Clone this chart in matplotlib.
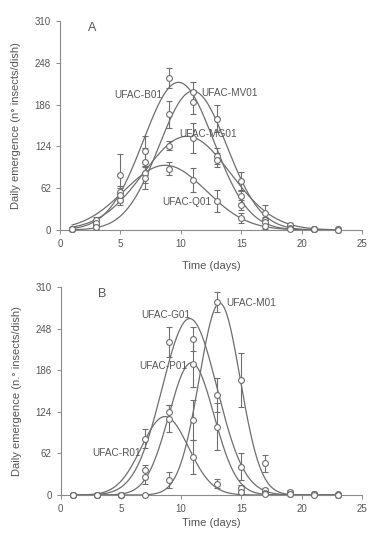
import numpy as np
import matplotlib
matplotlib.use("Agg")
import matplotlib.pyplot as plt

plt.rcParams['font.family'] = ['Liberation Sans', 'DejaVu Sans']

days = [1, 3, 5, 7, 9, 11, 13, 15, 17, 19, 21, 23]
yticks = [0, 62, 124, 186, 248, 310]
xticks = [0, 5, 10, 15, 20, 25]

# panel A - observed means and error bars
b01 = [2, 15, 57, 117, 225, 190, 110, 50, 15, 5, 2, 1]
b01_err = [1, 5, 8, 22, 15, 18, 12, 10, 5, 2, 1, 0]
mv01 = [1, 8, 45, 85, 172, 205, 165, 72, 25, 7, 1, 0]
mv01_err = [1, 4, 8, 15, 20, 15, 20, 14, 12, 3, 1, 0]
mg01 = [2, 10, 81, 101, 125, 136, 104, 37, 12, 3, 1, 1]
mg01_err = [1, 5, 32, 20, 7, 22, 10, 8, 6, 2, 1, 0]
q01 = [1, 5, 52, 77, 91, 74, 43, 18, 6, 2, 1, 0]
q01_err = [1, 3, 10, 16, 10, 18, 16, 7, 4, 1, 0, 0]

# panel B
g01 = [0, 0, 0, 37, 228, 233, 149, 42, 7, 3, 1, 0]
g01_err = [0, 0, 0, 8, 22, 18, 25, 20, 4, 1, 0, 0]
m01 = [0, 0, 0, 0, 22, 112, 288, 171, 47, 5, 2, 1]
m01_err = [0, 0, 0, 0, 12, 30, 15, 40, 12, 2, 0, 0]
p01 = [0, 0, 0, 27, 124, 196, 102, 10, 3, 2, 1, 0]
p01_err = [0, 0, 0, 10, 10, 35, 35, 5, 2, 1, 0, 0]
r01 = [0, 0, 0, 84, 114, 57, 17, 5, 2, 1, 0, 0]
r01_err = [0, 0, 0, 14, 20, 25, 7, 3, 1, 0, 0, 0]

# gaussian fit parameters (peak, centre, width)
fit_a = {'B01': (219, 9.8, 2.9), 'MV01': (206, 11.0, 2.8),
         'MG01': (139, 10.5, 3.6), 'Q01': (96, 8.7, 3.4)}
fit_b = {'G01': (263, 10.7, 2.28), 'M01': (286, 13.2, 1.7),
         'P01': (197, 10.85, 1.87), 'R01': (117, 8.65, 1.96)}

line_c = '#6e6e6e'
axis_c = '#8a8a8a'
text_c = '#555555'

def gauss(x, a, mu, s):
    return a*np.exp(-(x-mu)**2/(2*s**2))

def draw_panel(ax, series, fits, ylabel):
    xs = np.linspace(1, 23, 300)
    for name in fits:
        ax.plot(xs, gauss(xs, *fits[name]), color=line_c, lw=0.9, zorder=2)
    for vals, err in series:
        ax.errorbar(days, vals, yerr=err, fmt='o', ms=4.2, mfc='white',
                    mec=line_c, mew=0.8, ecolor=line_c, elinewidth=0.8,
                    capsize=2.5, capthick=0.8, zorder=3, clip_on=False)
    ax.set_xlim(0, 25)
    ax.set_ylim(0, 310)
    ax.set_xticks(xticks)
    ax.set_yticks(yticks)
    for s in ['top', 'right']:
        ax.spines[s].set_visible(False)
    for s in ['left', 'bottom']:
        ax.spines[s].set_color(axis_c)
        ax.spines[s].set_linewidth(0.8)
    ax.tick_params(colors=axis_c, labelcolor=text_c, labelsize=7,
                   length=3, width=0.7, direction='out')
    ax.set_ylabel(ylabel, fontsize=8, color=text_c)
    ax.set_xlabel('Time (days)', fontsize=8, color=text_c)
    ax.yaxis.set_label_coords(-0.128, 0.5)

fig = plt.figure(figsize=(3.8, 5.43), dpi=100)
ax1 = fig.add_axes([0.158, 0.5764, 0.795, 0.385])
ax2 = fig.add_axes([0.160, 0.0884, 0.792, 0.383])

draw_panel(ax1, [(b01, b01_err), (mv01, mv01_err), (mg01, mg01_err), (q01, q01_err)],
           fit_a, 'Daily emergence (n° insects/dish)')
draw_panel(ax2, [(g01, g01_err), (m01, m01_err), (p01, p01_err), (r01, r01_err)],
           fit_b, 'Daily emergence (n.° insects/dish)')
ax1.xaxis.set_label_coords(0.5, -0.15)
ax2.xaxis.set_label_coords(0.5, -0.11)

lab = dict(fontsize=7.2, color=text_c, va='center', zorder=4)
ax1.text(2.3, 300, 'A', fontsize=9, color=text_c, va='center')
ax1.text(8.5, 200, 'UFAC-B01', ha='right', **lab)
ax1.text(11.7, 203, 'UFAC-MV01', **lab)
ax1.text(9.85, 142, 'UFAC-MG01', **lab)
ax1.text(8.45, 41.5, 'UFAC-Q01', **lab)

ax2.text(3.1, 300, 'B', fontsize=9, color=text_c, va='center')
ax2.text(6.7, 268, 'UFAC-G01', **lab)
ax2.text(13.75, 286, 'UFAC-M01', **lab)
ax2.text(6.5, 193, 'UFAC-P01', **lab)
ax2.text(2.6, 62, 'UFAC-R01', **lab)

fig.savefig('out.png', dpi=100)
